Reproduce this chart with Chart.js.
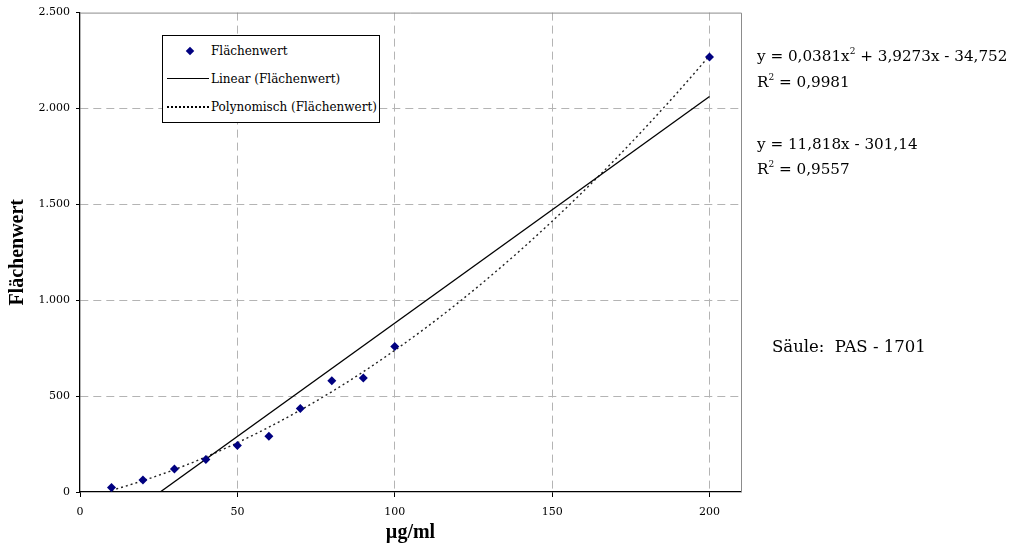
<!DOCTYPE html>
<html>
<head>
<meta charset="utf-8">
<script src="https://cdn.jsdelivr.net/npm/chart.js@4.4.1/dist/chart.umd.min.js"></script>
<style>
  html, body { margin: 0; padding: 0; background: #fff; }
  body { width: 1012px; height: 549px; position: relative; overflow: hidden; font-family: "DejaVu Serif", serif; color: #000; }
  #wrap { position: absolute; left: 0; top: 0; width: 1012px; height: 549px; }
  .legend { position: absolute; left: 162px; top: 35px; width: 216px; height: 86px; border: 1px solid #000; background: #fff; font-size: 12px; overflow: hidden; }
  .legend .row { position: absolute; left: 0; height: 16px; line-height: 16px; width: 100%; }
  .legend .txt { position: absolute; left: 48px; top: 0; white-space: nowrap; }
  .legend .dia { position: absolute; left: 24px; top: 5px; width: 6px; height: 6px; background: #000080; transform: rotate(45deg); }
  .legend .solid { position: absolute; left: 4px; top: 7px; width: 42px; border-top: 1px solid #000; }
  .legend .dots { position: absolute; left: 4px; top: 7px; width: 42px; border-top: 2px dotted #000; }
  .eq { position: absolute; left: 757px; font-size: 15.2px; white-space: nowrap; line-height: 18px; }
  .eq sup { font-size: 9px; vertical-align: 7px; line-height: 0; }
</style>
</head>
<body>
<div id="wrap"><canvas id="c"></canvas></div>

<div class="legend">
  <div class="row" style="top:7px"><span class="dia"></span><span class="txt">Flächenwert</span></div>
  <div class="row" style="top:35px"><span class="solid"></span><span class="txt">Linear (Flächenwert)</span></div>
  <div class="row" style="top:63px"><span class="dots"></span><span class="txt">Polynomisch (Flächenwert)</span></div>
</div>

<div class="eq" style="top:47px">y = 0,0381x<sup>2</sup> + 3,9273x - 34,752</div>
<div class="eq" style="top:73px">R<sup>2</sup> = 0,9981</div>
<div class="eq" style="top:135px">y = 11,818x - 301,14</div>
<div class="eq" style="top:160px">R<sup>2</sup> = 0,9557</div>
<div class="eq" style="top:338px; left:772px; font-size:16.5px">Säule:&nbsp; PAS - 1701</div>

<script>
// Messwerte (µg/ml -> Flächenwert)
const concentrations = [10, 20, 30, 40, 50, 60, 70, 80, 90, 100, 200];
const areaValues = [23, 62, 120, 170, 242, 291, 436, 580, 594, 759, 2269];

// Trendlinien
const linearX = [10, 200];
const linearY = [-183, 2062];
const polyX = [10, 20, 30, 40, 50, 60, 70, 80, 90, 100, 110, 120, 130, 140, 150, 160, 170, 180, 190, 200];
const polyY = [8, 59, 117, 183, 257, 338, 427, 523, 627, 739, 858, 985, 1120, 1262, 1412, 1569, 1734, 1907, 2087, 2275];

// Achsen
const xTicks = [0, 50, 100, 150, 200];
const yTicks = [0, 500, 1000, 1500, 2000, 2500];
const yTickLabels = ["0", "500", "1.000", "1.500", "2.000", "2.500"];

const FONT = "'DejaVu Serif', serif";
const TITLE_FONT = "'Liberation Serif', serif";
const gridGray = "#b4b4b4";

const toPts = (xs, ys) => xs.map((x, i) => ({ x: x, y: ys[i] }));

// grauer Rahmen oben/rechts
const frame = {
  id: "frame",
  beforeDatasetsDraw(chart) {
    const { ctx, chartArea: a } = chart;
    ctx.save();
    ctx.strokeStyle = "#8c8c8c";
    ctx.lineWidth = 1;
    ctx.beginPath();
    ctx.moveTo(a.left, a.top + 0.5);
    ctx.lineTo(a.right + 0.5, a.top + 0.5);
    ctx.lineTo(a.right + 0.5, a.bottom);
    ctx.stroke();
    ctx.restore();
  }
};

new Chart(document.getElementById("c").getContext("2d"), {
  type: "scatter",
  data: {
    datasets: [
      {
        label: "Flächenwert",
        data: toPts(concentrations, areaValues),
        pointStyle: "rectRot",
        pointRadius: 4.5,
        pointBackgroundColor: "#000080",
        pointBorderColor: "#000080",
        pointBorderWidth: 0,
        order: 0
      },
      {
        label: "Linear (Flächenwert)",
        data: toPts(linearX, linearY),
        showLine: true,
        borderColor: "#000",
        borderWidth: 1.3,
        pointRadius: 0,
        order: 1
      },
      {
        label: "Polynomisch (Flächenwert)",
        data: toPts(polyX, polyY),
        showLine: true,
        borderColor: "#222",
        borderWidth: 1.4,
        borderDash: [2, 3],
        cubicInterpolationMode: "monotone",
        pointRadius: 0,
        order: 2
      }
    ]
  },
  options: {
    responsive: true,
    maintainAspectRatio: false,
    animation: false,
    layout: { padding: { left: 0, top: 12, right: 271, bottom: 0 } },
    plugins: {
      legend: { display: false },
      tooltip: { enabled: false }
    },
    scales: {
      x: {
        type: "linear",
        min: 0,
        max: 210,
        afterBuildTicks: (s) => { s.ticks = xTicks.map(v => ({ value: v })); },
        afterFit: (s) => { s.height = 57; },
        ticks: { color: "#000", font: { family: FONT, size: 11 }, padding: 9, maxRotation: 0 },
        grid: {
          color: (c) => (c.tick && c.tick.value === 0) ? "rgba(0,0,0,0)" : gridGray,
          lineWidth: 1,
          tickLength: 5,
          tickColor: "#000"
        },
        border: { color: "#000", width: 1.3, dash: [8, 5] },
        title: { display: true, text: "µg/ml", color: "#000", font: { family: TITLE_FONT, size: 20, weight: "bold" }, padding: { top: 0 } }
      },
      y: {
        min: 0,
        max: 2500,
        afterBuildTicks: (s) => { s.ticks = yTicks.map(v => ({ value: v })); },
        afterFit: (s) => { s.width = 80; },
        ticks: {
          color: "#000",
          font: { family: FONT, size: 11 },
          padding: 6,
          callback: (v, i) => yTickLabels[i]
        },
        grid: {
          color: (c) => (c.tick && (c.tick.value === 0 || c.tick.value === 2500)) ? "rgba(0,0,0,0)" : gridGray,
          lineWidth: 1,
          tickLength: 4,
          tickColor: "#000"
        },
        border: { color: "#000", width: 1.3, dash: [8, 5] },
        title: { display: true, text: "Flächenwert", color: "#000", font: { family: TITLE_FONT, size: 20, weight: "bold" }, padding: { top: 6, bottom: 4 } }
      }
    }
  },
  plugins: [frame]
});
</script>
</body>
</html>
